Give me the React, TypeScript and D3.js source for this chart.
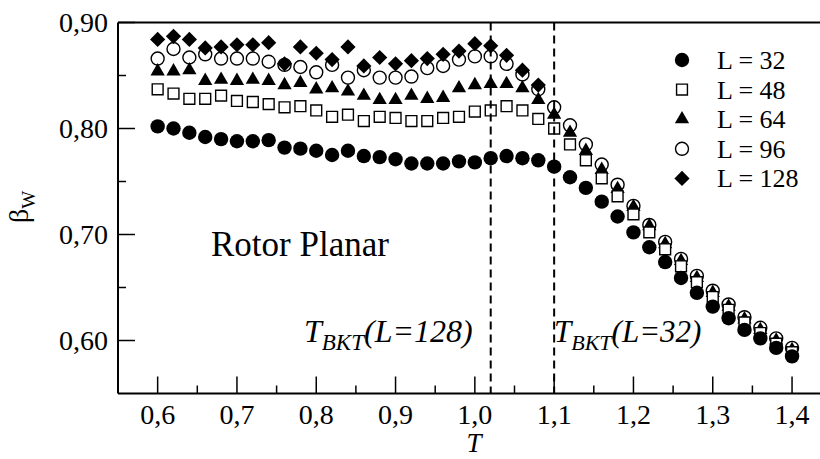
import { useMemo } from 'react';
import * as d3 from 'd3';

const T_VALUES = [
  0.60, 0.62, 0.64, 0.66, 0.68, 0.70, 0.72, 0.74, 0.76, 0.78,
  0.80, 0.82, 0.84, 0.86, 0.88, 0.90, 0.92, 0.94, 0.96, 0.98,
  1.00, 1.02, 1.04, 1.06, 1.08, 1.10, 1.12, 1.14, 1.16, 1.18,
  1.20, 1.22, 1.24, 1.26, 1.28, 1.30, 1.32, 1.34, 1.36, 1.38, 1.40,
];

const L32 = [
  0.802, 0.800, 0.796, 0.792, 0.790, 0.788, 0.788, 0.789, 0.782, 0.781,
  0.779, 0.775, 0.779, 0.774, 0.773, 0.771, 0.767, 0.767, 0.767, 0.769,
  0.768, 0.772, 0.774, 0.772, 0.770, 0.764, 0.754, 0.744, 0.731, 0.717,
  0.702, 0.688, 0.674, 0.659, 0.645, 0.632, 0.621, 0.610, 0.602, 0.593, 0.585,
];

const L48 = [
  0.837, 0.833, 0.828, 0.828, 0.831, 0.826, 0.825, 0.823, 0.820, 0.821,
  0.817, 0.811, 0.813, 0.807, 0.811, 0.810, 0.807, 0.807, 0.810, 0.811,
  0.816, 0.817, 0.821, 0.817, 0.809, 0.800, 0.785, 0.770, 0.753, 0.736,
  0.719, 0.702, 0.686, 0.670, 0.655, 0.641, 0.629, 0.617, 0.607, 0.597, 0.589,
];

const L64 = [
  0.854, 0.854, 0.855, 0.845, 0.846, 0.845, 0.846, 0.845, 0.841, 0.843,
  0.837, 0.838, 0.835, 0.831, 0.827, 0.827, 0.831, 0.828, 0.829, 0.838,
  0.841, 0.842, 0.842, 0.838, 0.827, 0.813, 0.796, 0.779, 0.761, 0.743,
  0.726, 0.708, 0.691, 0.675, 0.659, 0.645, 0.632, 0.620, 0.610, 0.600, 0.591,
];

const L96 = [
  0.866, 0.875, 0.867, 0.870, 0.866, 0.866, 0.866, 0.863, 0.860, 0.858,
  0.853, 0.860, 0.848, 0.855, 0.848, 0.848, 0.849, 0.857, 0.859, 0.865,
  0.868, 0.868, 0.861, 0.851, 0.837, 0.820, 0.803, 0.785, 0.766, 0.747,
  0.727, 0.709, 0.693, 0.677, 0.661, 0.647, 0.634, 0.622, 0.612, 0.602, 0.593,
];

const L128 = [
  0.884, 0.887, 0.884, 0.876, 0.877, 0.879, 0.879, 0.881, 0.861, 0.877,
  0.871, 0.865, 0.877, 0.859, 0.867, 0.861, 0.864, 0.866, 0.870, 0.873,
  0.880, 0.878, 0.869, 0.855, 0.841, null, null, null, null, null,
  null, null, null, null, null, null, null, null, null, null, null,
];

const X_TICKS = [0.6, 0.7, 0.8, 0.9, 1.0, 1.1, 1.2, 1.3, 1.4];
const X_MINOR = [0.65, 0.75, 0.85, 0.95, 1.05, 1.15, 1.25, 1.35];
const Y_TICKS = [0.6, 0.7, 0.8, 0.9];
const Y_MINOR = [0.65, 0.75, 0.85];
const T_BKT = [1.02, 1.10];

const W = 820;
const H = 459;
const FONT = '"Liberation Serif", "Times New Roman", serif';

const diamond = {
  draw(ctx: any, size: number) {
    const r = Math.sqrt(size / 2);
    ctx.moveTo(0, -r);
    ctx.lineTo(r, 0);
    ctx.lineTo(0, r);
    ctx.lineTo(-r, 0);
    ctx.closePath();
  },
};

// drawing order matters: open circles under, filled circles on top
const SERIES = [
  { label: 'L = 96', values: L96, type: d3.symbolCircle, size: Math.PI * 6.5 * 6.5, fill: 'none', order: 3 },
  { label: 'L = 128', values: L128, type: diamond, size: 2 * 7.6 * 7.6, fill: '#000', order: 4 },
  { label: 'L = 64', values: L64, type: d3.symbolTriangle, size: 88, fill: '#000', order: 2 },
  { label: 'L = 48', values: L48, type: d3.symbolSquare, size: 118, fill: '#fff', order: 1 },
  { label: 'L = 32', values: L32, type: d3.symbolCircle, size: Math.PI * 7.2 * 7.2, fill: '#000', order: 0 },
];

const fmt = (d: number, p: number) => d.toFixed(p).replace('.', ',');

export default function App() {
  const x = useMemo(() => d3.scaleLinear().domain([0.55, 1.45]).range([118, 831.7]), []);
  const y = useMemo(() => d3.scaleLinear().domain([0.55, 0.9]).range([393.5, 22.5]), []);

  const x0 = x(0.55);
  const y0 = y(0.55);
  const yTop = y(0.9);

  const legend = [...SERIES].sort((a, b) => a.order - b.order);

  return (
    <svg width={W} height={H} style={{ position: 'absolute', left: 0, top: 0, background: '#fff' }}
      fontFamily={FONT}>
      {/* frame */}
      <line x1={x0} y1={yTop} x2={W} y2={yTop} stroke="#000" strokeWidth={2} />
      <line x1={x0} y1={yTop} x2={x0} y2={y0} stroke="#000" strokeWidth={2} />
      <line x1={x0} y1={y0} x2={W} y2={y0} stroke="#000" strokeWidth={2} />

      {/* x ticks */}
      {X_TICKS.map(t => (
        <g key={`xt${t}`}>
          <line x1={x(t)} x2={x(t)} y1={y0} y2={y0 - 17} stroke="#000" strokeWidth={1.5} />
          <text x={x(t)} y={424} textAnchor="middle" fontSize={28}>{fmt(t, 1)}</text>
        </g>
      ))}
      {X_MINOR.map(t => (
        <line key={`xm${t}`} x1={x(t)} x2={x(t)} y1={y0} y2={y0 - 8} stroke="#000" strokeWidth={1.5} />
      ))}

      {/* y ticks */}
      {Y_TICKS.map(t => (
        <g key={`yt${t}`}>
          <line x1={x0} x2={x0 + 17} y1={y(t)} y2={y(t)} stroke="#000" strokeWidth={1.5} />
          <text x={108} y={y(t) + 9} textAnchor="end" fontSize={28}>{fmt(t, 2)}</text>
        </g>
      ))}
      {Y_MINOR.map(t => (
        <line key={`ym${t}`} x1={x0} x2={x0 + 8} y1={y(t)} y2={y(t)} stroke="#000" strokeWidth={1.5} />
      ))}

      {/* axis titles */}
      <text x={474} y={452} textAnchor="middle" fontSize={27} fontStyle="italic">T</text>
      <text transform="translate(28,207) rotate(-90)" textAnchor="middle" fontSize={28}>
        β<tspan fontSize={19} dy={7}>W</tspan>
      </text>

      {/* markers */}
      {SERIES.map(s => {
        const path = d3.symbol().type(s.type as any).size(s.size)() as string;
        return (
          <g key={s.label}>
            {s.values.map((v, i) => v == null ? null : (
              <path key={i} d={path} transform={`translate(${x(T_VALUES[i])},${y(v)})`}
                fill={s.fill} stroke="#000" strokeWidth={s.fill === '#000' ? 0 : 1.4} />
            ))}
          </g>
        );
      })}

      {/* T_BKT lines */}
      {T_BKT.map(t => (
        <line key={`bkt${t}`} x1={x(t)} x2={x(t)} y1={yTop} y2={y0} stroke="#000"
          strokeWidth={2} strokeDasharray="8,5" />
      ))}

      {/* annotations */}
      <text x={211} y={256} fontSize={35}>Rotor Planar</text>
      <text x={304} y={342} fontSize={32} fontStyle="italic">
        T<tspan fontSize={23} dy={8}>BKT</tspan><tspan dy={-8}>(L=128)</tspan>
      </text>
      <text x={554} y={342} fontSize={31} fontStyle="italic">
        T<tspan fontSize={22} dy={8}>BKT</tspan><tspan dy={-8}>(L=32)</tspan>
      </text>

      {/* legend */}
      {legend.map((s, i) => {
        const path = d3.symbol().type(s.type as any).size(s.size)() as string;
        const ly = 60 + i * 29.6;
        return (
          <g key={`lg${s.label}`}>
            <path d={path} transform={`translate(682,${ly})`} fill={s.fill === 'none' ? '#fff' : s.fill}
              stroke="#000" strokeWidth={s.fill === '#000' ? 0 : 1.4} />
            <text x={717} y={ly + 9} fontSize={26}>{s.label}</text>
          </g>
        );
      })}
    </svg>
  );
}
